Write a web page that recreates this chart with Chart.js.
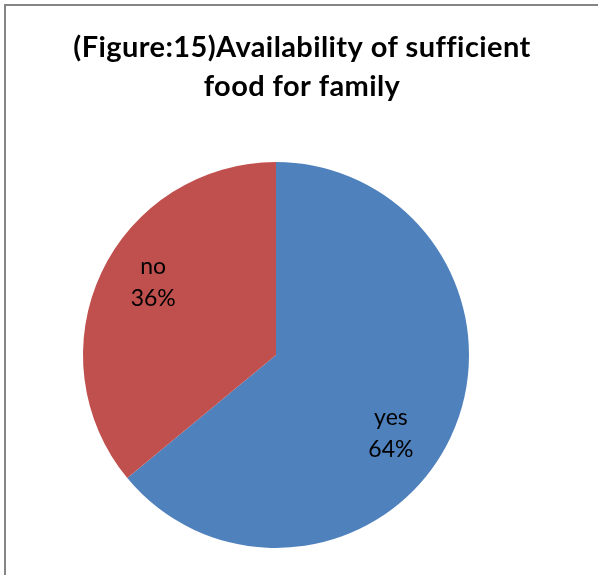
<!DOCTYPE html>
<html>
<head>
<meta charset="utf-8">
<script src="https://cdn.jsdelivr.net/npm/chart.js@4.4.1/dist/chart.umd.min.js"></script>
<style>
  html, body { margin: 0; padding: 0; background: #ffffff; }
  #wrap { width: 598px; height: 575px; position: relative; }
</style>
</head>
<body>
<div id="wrap"><canvas id="c" width="598" height="575"></canvas></div>
<script>
const categories = ['yes', 'no'];
const shares = [64, 36];
const sliceColors = ['#4F81BD', '#C0504D'];
const titleLines = ['(Figure:15)Availability of sufficient', 'food for family'];

// Frame lines along the left and top edges plus the two-line heading
const framePlugin = {
  id: 'frame',
  beforeDraw(chart) {
    const ctx = chart.ctx;
    ctx.save();
    ctx.fillStyle = '#ffffff';
    ctx.fillRect(0, 0, chart.width, chart.height);
    ctx.strokeStyle = '#858585';
    ctx.lineWidth = 2;
    ctx.beginPath();
    ctx.moveTo(5, chart.height);
    ctx.lineTo(5, 5);
    ctx.lineTo(chart.width, 5);
    ctx.stroke();
    ctx.fillStyle = '#000000';
    ctx.font = 'bold 29px Lato, "Open Sans", sans-serif';
    ctx.letterSpacing = '0.4px';
    ctx.textAlign = 'center';
    ctx.textBaseline = 'middle';
    titleLines.forEach((line, i) => ctx.fillText(line, 302, 48 + i * 39));
    ctx.restore();
  }
};

// Category name and percentage written inside each slice
const sliceLabels = {
  id: 'sliceLabels',
  afterDatasetsDraw(chart, args, opts) {
    const ctx = chart.ctx;
    const meta = chart.getDatasetMeta(0);
    const total = shares.reduce((a, b) => a + b, 0);
    ctx.save();
    ctx.fillStyle = '#000000';
    ctx.font = '23px Lato, "Open Sans", sans-serif';
    ctx.textAlign = 'center';
    ctx.textBaseline = 'middle';
    meta.data.forEach((arc, i) => {
      const p = arc.getProps(['x', 'y', 'startAngle', 'endAngle', 'outerRadius'], true);
      const mid = (p.startAngle + p.endAngle) / 2 + opts.shift[i] * Math.PI / 180;
      const r = p.outerRadius * opts.radius[i];
      const cx = p.x + Math.cos(mid) * r;
      const cy = p.y + Math.sin(mid) * r;
      const pct = Math.round(shares[i] / total * 100) + '%';
      ctx.fillText(categories[i], cx, cy - 16);
      ctx.fillText(pct, cx, cy + 16);
    });
    ctx.restore();
  }
};

new Chart(document.getElementById('c'), {
  type: 'pie',
  data: {
    labels: categories,
    datasets: [{
      data: shares,
      backgroundColor: sliceColors,
      borderWidth: 0
    }]
  },
  options: {
    responsive: false,
    animation: false,
    events: [],
    layout: { padding: { top: 162, left: 83, right: 129, bottom: 27 } },
    plugins: {
      legend: { display: false },
      title: { display: false },
      tooltip: { enabled: false },
      sliceLabels: { radius: [0.72, 0.74], shift: [9, 5.5] }
    }
  },
  plugins: [framePlugin, sliceLabels]
});
</script>
</body>
</html>
